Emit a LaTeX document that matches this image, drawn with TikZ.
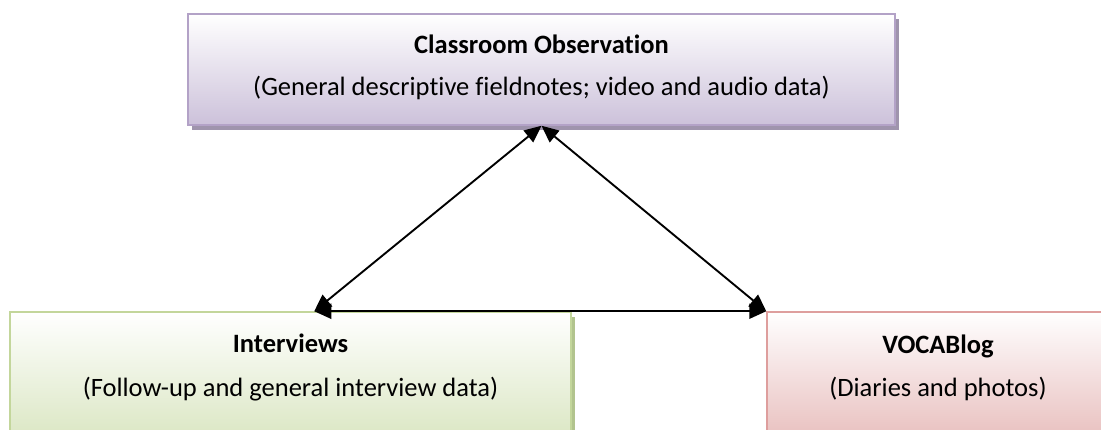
\documentclass[tikz,border=0pt]{standalone}
\usepackage{fontspec}
\setmainfont{Carlito}[Ligatures=NoCommon]
\usetikzlibrary{arrows.meta,shadows}

\definecolor{obsLine}{HTML}{B3A2C7}
\definecolor{obsFill}{HTML}{CCC1DA}
\definecolor{obsShade}{HTML}{9F94AD}
\definecolor{intLine}{HTML}{C3D69B}
\definecolor{intFill}{HTML}{D7E4BD}
\definecolor{intShade}{HTML}{B2C48E}
\definecolor{vocLine}{HTML}{DE9E9D}
\definecolor{vocFill}{HTML}{E6B9B8}
\definecolor{vocShade}{HTML}{C99896}

\tikzset{
  box/.style={rectangle, inner sep=0pt, line width=1.5pt},
  obsbox/.style={box, draw=obsLine, top color=white, bottom color=obsFill,
    drop shadow={shadow xshift=4pt, shadow yshift=-5pt, fill=obsShade, opacity=1}},
  intbox/.style={box, draw=intLine, top color=white, bottom color=intFill,
    drop shadow={shadow xshift=4pt, shadow yshift=-5pt, fill=intShade, opacity=1}},
  vocbox/.style={box, draw=vocLine, top color=white, bottom color=vocFill,
    drop shadow={shadow xshift=4pt, shadow yshift=-5pt, fill=vocShade, opacity=1}},
  txt/.style={anchor=base, inner sep=0pt, font=\fontsize{26.5}{32}\selectfont},
  link/.style={line width=1.9pt, black, {Triangle[length=17pt,width=15pt]}-{Triangle[length=17pt,width=15pt]}}
}

\begin{document}
\begin{tikzpicture}[x=1pt, y=-1pt]
  \useasboundingbox (0,0) rectangle (1101,430);
  \clip (0,0) rectangle (1101,430);

  % the three data sources
  \node[obsbox, minimum width=707pt, minimum height=111pt] (obs) at (541.5,69.5) {};
  \node[intbox, minimum width=561pt, minimum height=140pt] (int) at (290.5,382) {};
  \node[vocbox, minimum width=344pt, minimum height=140pt] (voc) at (939,382) {};

  % captions
  \node[txt] (obsT) at (541.5,54) {\bfseries Classroom Observation};
  \node[txt] (obsS) at (541.5,96) {(General descriptive fieldnotes; video and audio data)};
  \node[txt] (intT) at (290.5,353) {\bfseries Interviews};
  \node[txt] (intS) at (290.5,396) {(Follow-up and general interview data)};
  \node[txt] (vocT) at (938,354) {\bfseries VOCABlog};
  \node[txt] (vocS) at (938,396) {(Diaries and photos)};

  % connector end points on the box edges
  \coordinate (apex) at (obs.south);
  \coordinate (intTop) at ([xshift=305pt]int.north west);
  \coordinate (vocTop) at (voc.north west);

  % triangulation links
  \draw[link] (intTop) -- (apex);
  \draw[link] (apex) -- (vocTop);
  \draw[link] (intTop) -- (vocTop);
\end{tikzpicture}
\end{document}
